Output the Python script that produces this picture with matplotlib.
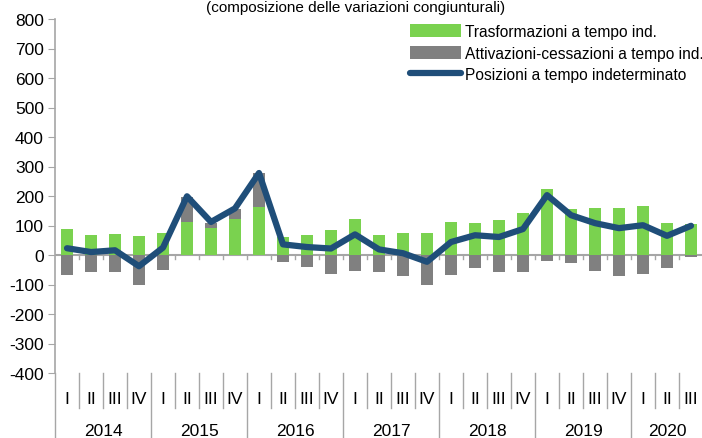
import numpy as np
import matplotlib
matplotlib.use('Agg')
import matplotlib.pyplot as plt
from matplotlib.lines import Line2D

plt.rcParams['font.family'] = ['Liberation Sans', 'DejaVu Sans']
plt.rcParams['axes.unicode_minus'] = False

# dati (composizione delle variazioni congiunturali), 2014 T1 - 2020 T3
anni = ['2014', '2015', '2016', '2017', '2018', '2019', '2020']
trimestri = ['I', 'II', 'III', 'IV'] * 6 + ['I', 'II', 'III']
trasformazioni = [88, 67, 70, 64, 73, 111, 92, 122, 164, 60, 68, 85, 123, 69, 74, 75,
                  111, 109, 118, 144, 224, 157, 159, 159, 165, 109, 105]
attiv_cess = [-68, -58, -57, -102, -52, 87, 18, 34, 115, -23, -41, -64, -54, -56, -72, -100,
              -68, -44, -58, -58, -19, -26, -53, -70, -65, -44, -6]
posizioni = [23, 10, 16, -38, 25, 199, 112, 158, 278, 36, 27, 22, 70, 19, 6, -23,
             44, 67, 61, 88, 203, 135, 108, 91, 101, 65, 99]

verde = '#7ad24f'
grigio = '#808080'
blu = '#1f4e79'
col_asse = '#a6a6a6'

n = len(trasformazioni)
x = np.arange(n)
tr = np.array(trasformazioni)
ac = np.array(attiv_cess)
# la parte positiva delle attivazioni si impila sopra le trasformazioni
base_ac = np.where(ac > 0, tr, 0)

W, H = 702, 439
fig = plt.figure(figsize=(W / 100, H / 100), dpi=100)
ax = fig.add_axes([55 / W, (H - 374) / H, (703 - 55) / W, (374 - 20) / H])

b1 = ax.bar(x, tr, width=0.47, color=verde, zorder=2)
b2 = ax.bar(x, ac, bottom=base_ac, width=0.47, color=grigio, zorder=2)
l1, = ax.plot(x, posizioni, color=blu, lw=4.5, solid_capstyle='round',
              solid_joinstyle='round', zorder=3)

ax.set_xlim(-0.5, n - 0.5)
ax.set_ylim(-400, 800)
ax.set_yticks(np.arange(-400, 801, 100))
ax.tick_params(axis='y', labelsize=12.5, length=5, color=col_asse, pad=3)
ax.set_xticks([])
for s in ['top', 'right', 'bottom']:
    ax.spines[s].set_visible(False)
ax.spines['left'].set_color(col_asse)
ax.spines['left'].set_linewidth(1.2)

# linea dello zero con tacche ai confini dei trimestri
ax.axhline(0, color=col_asse, lw=1.5, zorder=1)
for b in np.arange(0.5, n, 1):
    ax.plot([b, b], [0, -14], color=col_asse, lw=1, zorder=1)

# etichette categorie sotto il grafico
tr_ax = ax.get_xaxis_transform()
alt = 374 - 20
y_q_bot = -(409 - 374) / alt
y_y_bot = -(H - 374) / alt
for i, q in enumerate(trimestri):
    ax.text(i, -(400 - 374) / alt, q, transform=tr_ax, ha='center', va='center',
            fontsize=12.5)
for b in range(n + 1):
    xb = b - 0.5
    lungo = (b % 4 == 0)
    ax.add_line(Line2D([xb, xb], [0, y_y_bot if lungo else y_q_bot], transform=tr_ax,
                       color=col_asse, lw=1, clip_on=False))
for k, a in enumerate(anni):
    i0 = 4 * k
    i1 = min(4 * k + 3, n - 1)
    ax.text((i0 + i1) / 2, -(432 - 374) / alt, a, transform=tr_ax,
            ha='center', va='center', fontsize=12.5)

# titolo in alto
fig.text(356 / W, 1 - 1 / H, '(composizione delle variazioni congiunturali)', ha='center',
         va='top', fontsize=11)

ax.legend([b1, b2, l1],
          ['Trasformazioni a tempo ind.', 'Attivazioni-cessazioni a tempo ind.',
           'Posizioni a tempo indeterminato'],
          loc='upper left', bbox_to_anchor=(0.548, 0.985), frameon=False, fontsize=11.2,
          handlelength=3.3, handleheight=0.9, handletextpad=0.2, labelspacing=0.4,
          borderaxespad=0, borderpad=0)

fig.savefig('out.png', dpi=100)
